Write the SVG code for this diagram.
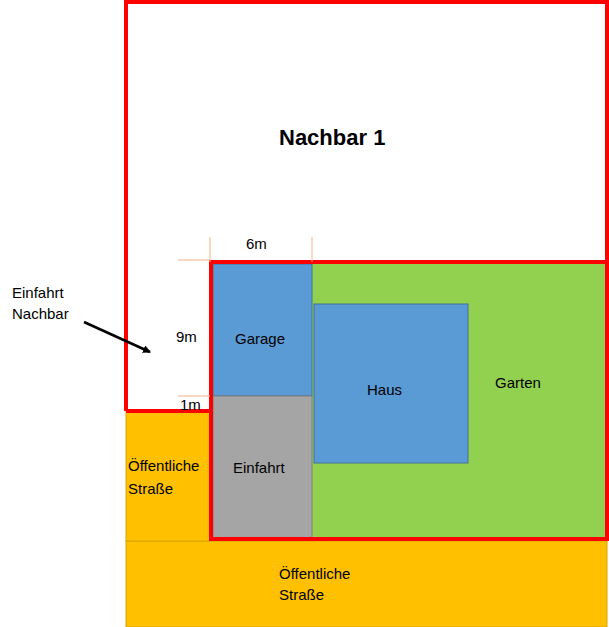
<svg xmlns="http://www.w3.org/2000/svg" width="609" height="627" viewBox="0 0 609 627">
<style>
text{font-family:"Liberation Sans",Arial,sans-serif;font-size:15px;fill:#000}
.dim{stroke:#f4b183;stroke-width:1}
</style>
<defs><marker id="ah" markerWidth="8" markerHeight="8" refX="7" refY="4" orient="auto" markerUnits="userSpaceOnUse"><path d="M0,0L8,4L0,8z" fill="#000"/></marker></defs>
<rect width="609" height="627" fill="#fff"/>
<g id="strasse-unten"><rect x="126" y="541" width="481" height="86" fill="#ffc000" stroke="#d9a300" stroke-width="1"/><text x="279" y="579">Öffentliche</text><text x="279" y="600">Straße</text></g>
<g id="strasse-links"><rect x="126" y="411" width="85" height="130" fill="#ffc000" stroke="#d9a300" stroke-width="1"/><text x="128" y="471">Öffentliche</text><text x="128" y="494">Straße</text></g>
<g id="garten"><rect x="312" y="263" width="295" height="276" fill="#92d050"/><text x="495" y="388">Garten</text></g>
<g id="garage"><rect x="213" y="264" width="99" height="132" fill="#5b9bd5" stroke="#41719c" stroke-width="1"/><text x="235" y="344">Garage</text></g>
<g id="einfahrt"><rect x="213" y="396" width="99" height="144" fill="#a5a5a5" stroke="#7f7f7f" stroke-width="1"/><text x="233" y="473">Einfahrt</text></g>
<g id="haus"><rect x="314" y="304" width="154" height="159" fill="#5b9bd5" stroke="#41719c" stroke-width="1"/><text x="367" y="395">Haus</text></g>
<g id="nachbar1"><path d="M126,411V2H607V262" fill="none" stroke="#ff0000" stroke-width="4"/><path d="M126,411H211" fill="none" stroke="#ff0000" stroke-width="4"/><text x="279" y="145" style="font-size:22px;font-weight:bold">Nachbar 1</text></g>
<g id="grundstueck"><rect x="211" y="262" width="396" height="277" fill="none" stroke="#ff0000" stroke-width="4"/></g>
<g id="masse">
<line class="dim" x1="210" y1="237" x2="210" y2="262"/><line class="dim" x1="312" y1="237" x2="312" y2="262"/>
<line class="dim" x1="178" y1="260" x2="210" y2="260"/><line class="dim" x1="178" y1="396" x2="210" y2="396"/>
<text x="246" y="249">6m</text><text x="176" y="342">9m</text><text x="180" y="410">1m</text>
</g>
<g id="einfahrt-nachbar"><text x="12" y="298">Einfahrt</text><text x="12" y="319">Nachbar</text></g>
<g id="connectors"><line x1="84" y1="322" x2="150" y2="352" stroke="#000" stroke-width="2.5" marker-end="url(#ah)"/></g>
</svg>
